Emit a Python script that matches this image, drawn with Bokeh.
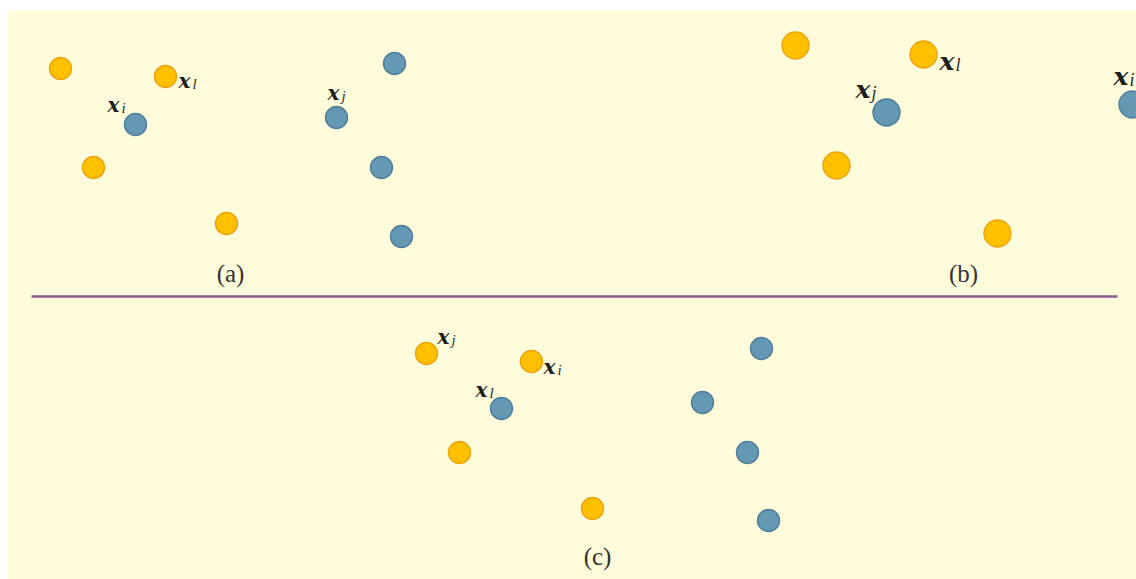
from bokeh.plotting import figure
from bokeh.models import ColumnDataSource, Range1d
from bokeh.embed import file_html
from bokeh.resources import INLINE
from bokeh.core.properties import value

# Point positions of the three scenes (canvas units, y grows downwards)
a_orange_x = [60, 165, 93, 226]
a_orange_y = [68, 76, 167, 223]
a_blue_x = [135, 394, 336, 381, 401]
a_blue_y = [124, 63, 117, 167, 236]

b_orange_x = [795, 923, 836, 997]
b_orange_y = [45, 54, 165, 233]
b_blue_x = [886, 1132]
b_blue_y = [112, 104]

c_orange_x = [426, 531, 459, 592]
c_orange_y = [353, 361, 452, 508]
c_blue_x = [501, 761, 702, 747, 768]
c_blue_y = [408, 348, 402, 452, 520]

# Named points: (scene, class, index within class, subscript)
named_points = [
    ("a", "blue", 0, "i"), ("a", "orange", 1, "l"), ("a", "blue", 2, "j"),
    ("b", "blue", 1, "i"), ("b", "orange", 1, "l"), ("b", "blue", 0, "j"),
    ("c", "orange", 1, "i"), ("c", "orange", 0, "j"), ("c", "blue", 0, "l"),
]
captions = ["(a)", "(b)", "(c)"]

# ---- styling / layout ----
W, H = 1136, 579
BG = "#fffcdc"
ORANGE, ORANGE_LINE = "#ffc000", "#eea20c"
BLUE, BLUE_LINE = "#6498b3", "#4f7e98"

scenes = {
    "a": {"orange": (a_orange_x, a_orange_y), "blue": (a_blue_x, a_blue_y)},
    "b": {"orange": (b_orange_x, b_orange_y), "blue": (b_blue_x, b_blue_y)},
    "c": {"orange": (c_orange_x, c_orange_y), "blue": (c_blue_x, c_blue_y)},
}
marker_size = {"a": 22, "b": 27, "c": 22}
x_font = {"a": "20px", "b": "25px", "c": "20px"}
sub_font = {"a": "15px", "b": "18px", "c": "15px"}
sub_shift = {"a": 14, "b": 16, "c": 14}
# where the "x" of each name sits relative to its point (left edge, baseline)
label_offsets = [(-28, -20), (13, 4), (-9, -25),
                 (-19, -28), (16, 7), (-31, -23),
                 (12, 5), (11, -17), (-26, -19)]
caption_anchor = [(230, 273), (963, 273), (597, 556)]

p = figure(width=W, height=H, output_backend="svg", toolbar_location=None,
           x_range=Range1d(7, W), y_range=Range1d(H, 10),
           min_border_left=7, min_border_top=10, min_border_right=0,
           min_border_bottom=0)
p.axis.visible = False
p.grid.visible = False
p.outline_line_color = None
p.background_fill_color = BG
p.border_fill_color = "white"

for key, groups in scenes.items():
    for cls, (xs, ys) in groups.items():
        fill, line = (ORANGE, ORANGE_LINE) if cls == "orange" else (BLUE, BLUE_LINE)
        p.scatter(x=xs, y=ys, size=marker_size[key], fill_color=fill,
                  line_color=line, line_width=1.4)

# separator between the top scenes and the bottom one
p.line(x=[31, 1117], y=[296, 296], line_color="#8c5a8c", line_width=2.5)

for (key, cls, idx, sub), (dx, dy) in zip(named_points, label_offsets):
    xs, ys = scenes[key][cls]
    lx, ly = xs[idx] + dx, ys[idx] + dy
    p.text(x=[lx], y=[ly], text=["x"], text_font=value("DejaVu Serif"),
           text_font_style="bold italic", text_font_size=x_font[key],
           text_color="#1e1e1e", text_align="left", text_baseline="alphabetic")
    p.text(x=[lx + sub_shift[key]], y=[ly + 3], text=[sub],
           text_font=value("Liberation Serif"), text_font_style="italic",
           text_font_size=sub_font[key], text_color="#2a2a2a",
           text_align="left", text_baseline="alphabetic")

cap_src = ColumnDataSource(dict(x=[c[0] for c in caption_anchor],
                                y=[c[1] for c in caption_anchor],
                                text=captions))
p.text(x="x", y="y", text="text", source=cap_src,
       text_font=value("Liberation Serif"), text_font_size="25px",
       text_color="#333333", text_align="center", text_baseline="middle")

open("out.html", "w").write(file_html(p, INLINE))
